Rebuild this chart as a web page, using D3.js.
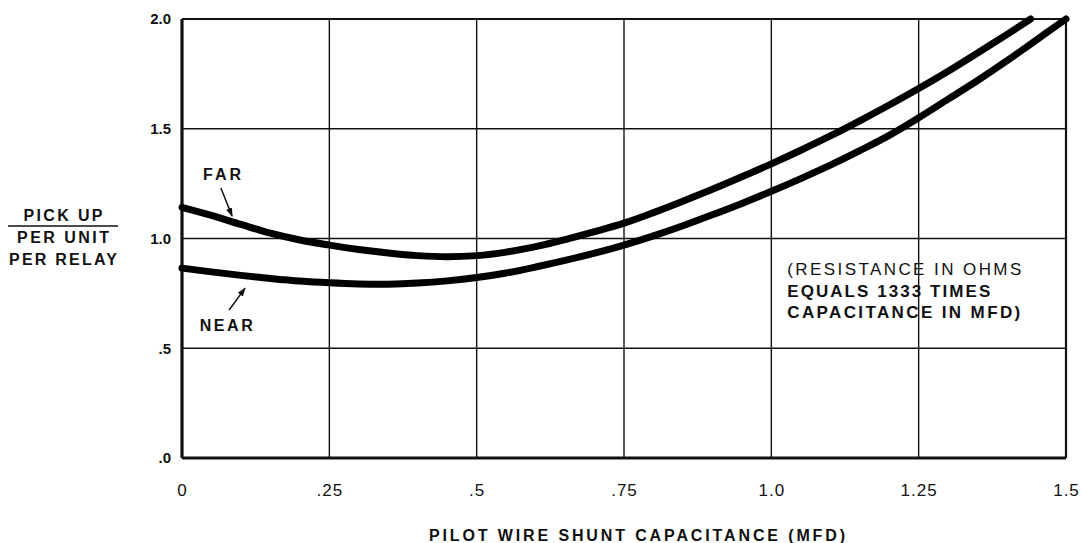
<!DOCTYPE html>
<html>
<head>
<meta charset="utf-8">
<script src="https://cdn.jsdelivr.net/npm/d3@7"></script>
<style>
  html, body { margin: 0; padding: 0; background: #fff; }
  #chart { width: 1082px; height: 543px; }
  text { font-family: "Liberation Sans", Arial, Helvetica, sans-serif; fill: #111; }
</style>
</head>
<body>
<div id="chart"></div>
<script>
//Datos
const capacitance = [0, 0.05, 0.1, 0.15, 0.2, 0.25, 0.3, 0.35, 0.4, 0.45, 0.5, 0.55, 0.6, 0.65, 0.7, 0.75,
  0.8, 0.85, 0.9, 0.95, 1.0, 1.05, 1.1, 1.15, 1.2, 1.25, 1.3, 1.35, 1.4, 1.44, 1.5];
const farPickup = [1.142, 1.105, 1.064, 1.024, 0.993, 0.970, 0.950, 0.934, 0.922, 0.917, 0.922, 0.938, 0.963, 0.995, 1.031, 1.070,
  1.118, 1.170, 1.224, 1.281, 1.340, 1.402, 1.467, 1.536, 1.608, 1.683, 1.762, 1.845, 1.93, 2.0, null];
const nearPickup = [0.865, 0.848, 0.832, 0.818, 0.806, 0.798, 0.793, 0.792, 0.797, 0.807, 0.822, 0.843, 0.870, 0.900, 0.933, 0.970,
  1.012, 1.058, 1.108, 1.160, 1.215, 1.273, 1.334, 1.400, 1.470, 1.550, 1.635, 1.720, 1.810, 1.886, 2.0];

const xTicks = [0, 0.25, 0.5, 0.75, 1.0, 1.25, 1.5];
const xTickLabels = ['0', '.25', '.5', '.75', '1.0', '1.25', '1.5'];
const yTicks = [0, 0.5, 1.0, 1.5, 2.0];
const yTickLabels = ['.0', '.5', '1.0', '1.5', '2.0'];

const yTitleLines = ['PICK UP', 'PER UNIT', 'PER RELAY'];
const xTitle = 'PILOT WIRE SHUNT CAPACITANCE (MFD)';
const noteLines = ['(RESISTANCE IN OHMS', 'EQUALS 1333 TIMES', 'CAPACITANCE IN MFD)'];

//Etiquetas de curva: texto, punta de flecha, cola de flecha, posicion del texto (en unidades del grafico)
const curveLabels = ['FAR', 'NEAR'];
const labelTip = [[0.085, 1.102], [0.107, 0.774]];
const labelTail = [[0.066, 1.230], [0.080, 0.674]];
const labelPos = [[0.068, 1.294], [0.075, 0.604]];

let margin = {top: 19, right: 16, bottom: 85, left: 182},
    width = 1082 - margin.left - margin.right,
    height = 543 - margin.top - margin.bottom;

let root = d3.select('#chart')
    .append('svg')
      .attr('width', 1082)
      .attr('height', 543);

let svg = root.append('g')
      .attr('transform', 'translate(' + margin.left + ',' + margin.top + ')');

let x = d3.scaleLinear().domain([0, 1.5]).range([0, width]);
let y = d3.scaleLinear().domain([0, 2.0]).range([height, 0]);

//Rejilla
svg.append('g')
    .selectAll('line')
    .data(xTicks.slice(1, -1))
    .enter().append('line')
    .attr('x1', d => x(d)).attr('x2', d => x(d))
    .attr('y1', 0).attr('y2', height)
    .attr('stroke', '#111').attr('stroke-width', 1.4);

svg.append('g')
    .selectAll('line')
    .data(yTicks.slice(1, -1))
    .enter().append('line')
    .attr('x1', 0).attr('x2', width)
    .attr('y1', d => y(d)).attr('y2', d => y(d))
    .attr('stroke', '#111').attr('stroke-width', 1.6);

//Marco
svg.append('line').attr('x1', 0).attr('x2', width).attr('y1', y(2)).attr('y2', y(2))
    .attr('stroke', '#111').attr('stroke-width', 2);
svg.append('line').attr('x1', x(1.5)).attr('x2', x(1.5)).attr('y1', 0).attr('y2', height)
    .attr('stroke', '#111').attr('stroke-width', 2.2);
svg.append('line').attr('x1', 0).attr('x2', width).attr('y1', height).attr('y2', height)
    .attr('stroke', '#111').attr('stroke-width', 3);
svg.append('line').attr('x1', 0).attr('x2', 0).attr('y1', 0).attr('y2', height)
    .attr('stroke', '#111').attr('stroke-width', 3.2);

//Ejes (solo etiquetas)
let xAxis = d3.axisBottom(x).tickValues(xTicks).tickSize(0).tickPadding(26)
    .tickFormat((d, i) => xTickLabels[i]);
svg.append('g')
    .attr('transform', 'translate(0,' + height + ')')
    .call(xAxis)
    .call(g => g.select('.domain').remove())
    .call(g => g.selectAll('text')
        .style('font-family', '"Liberation Sans", Arial, sans-serif')
        .style('font-size', '17px')
        .style('letter-spacing', '1px')
        .attr('fill', '#111'));

let yAxis = d3.axisLeft(y).tickValues(yTicks).tickSize(0).tickPadding(11)
    .tickFormat((d, i) => yTickLabels[i]);
svg.append('g')
    .call(yAxis)
    .call(g => g.select('.domain').remove())
    .call(g => g.selectAll('text')
        .style('font-family', '"Liberation Sans", Arial, sans-serif')
        .style('font-size', '15px')
        .style('font-weight', 'bold')
        .attr('fill', '#111'));

//Curvas
let line = d3.line()
    .defined(d => d[1] != null)
    .x(d => x(d[0]))
    .y(d => y(d[1]))
    .curve(d3.curveCatmullRom);

[farPickup, nearPickup].forEach(function(series) {
    svg.append('path')
        .datum(capacitance.map((c, i) => [c, series[i]]))
        .attr('fill', 'none')
        .attr('stroke', '#000')
        .attr('stroke-width', 7)
        .attr('stroke-linecap', 'round')
        .attr('d', line);
});

//Flechas y etiquetas FAR / NEAR
svg.append('defs').append('marker')
    .attr('id', 'arrow')
    .attr('viewBox', '0 0 10 10')
    .attr('refX', 9).attr('refY', 5)
    .attr('markerWidth', 9).attr('markerHeight', 9)
    .attr('markerUnits', 'userSpaceOnUse')
    .attr('orient', 'auto')
    .append('path')
    .attr('d', 'M0,1.5 L10,5 L0,8.5 Z')
    .attr('fill', '#111');

const labelWidths = [38, 53];
curveLabels.forEach(function(lbl, i) {
    svg.append('line')
        .attr('x1', x(labelTail[i][0])).attr('y1', y(labelTail[i][1]))
        .attr('x2', x(labelTip[i][0])).attr('y2', y(labelTip[i][1]))
        .attr('stroke', '#111').attr('stroke-width', 1.5)
        .attr('marker-end', 'url(#arrow)');
    svg.append('text')
        .attr('x', x(labelPos[i][0])).attr('y', y(labelPos[i][1]))
        .attr('text-anchor', 'middle')
        .attr('dy', '0.35em')
        .attr('textLength', labelWidths[i])
        .attr('lengthAdjust', 'spacing')
        .style('font-size', '16px')
        .style('font-weight', 'bold')
        .text(lbl);
});

//Nota
const noteWidths = [234, 203, 233];
svg.append('g')
    .selectAll('text')
    .data(noteLines)
    .enter().append('text')
    .attr('x', x(1.027))
    .attr('y', (d, i) => y(0.86) + i * 21.5)
    .attr('dy', '0.35em')
    .attr('textLength', (d, i) => noteWidths[i])
    .attr('lengthAdjust', 'spacing')
    .style('font-size', '17px')
    .style('font-weight', (d, i) => i === 0 ? 'normal' : 'bold')
    .text(d => d);

//Titulo eje Y
const yTitleWidths = [79, 92, 108];
let yTitle = root.append('g');
yTitle.selectAll('text')
    .data(yTitleLines)
    .enter().append('text')
    .attr('x', 63)
    .attr('y', (d, i) => [215, 237, 259][i])
    .attr('dy', '0.35em')
    .attr('text-anchor', 'middle')
    .attr('textLength', (d, i) => yTitleWidths[i])
    .attr('lengthAdjust', 'spacing')
    .style('font-size', '16px')
    .style('font-weight', 'bold')
    .text(d => d);
yTitle.append('line')
    .attr('x1', 8).attr('x2', 118)
    .attr('y1', 226).attr('y2', 226)
    .attr('stroke', '#111').attr('stroke-width', 1.6);

//Titulo eje X
root.append('text')
    .attr('x', 637)
    .attr('y', 535)
    .attr('dy', '0.35em')
    .attr('text-anchor', 'middle')
    .attr('textLength', 416)
    .attr('lengthAdjust', 'spacing')
    .style('font-size', '16px')
    .style('font-weight', 'bold')
    .text(xTitle);
</script>
</body>
</html>
